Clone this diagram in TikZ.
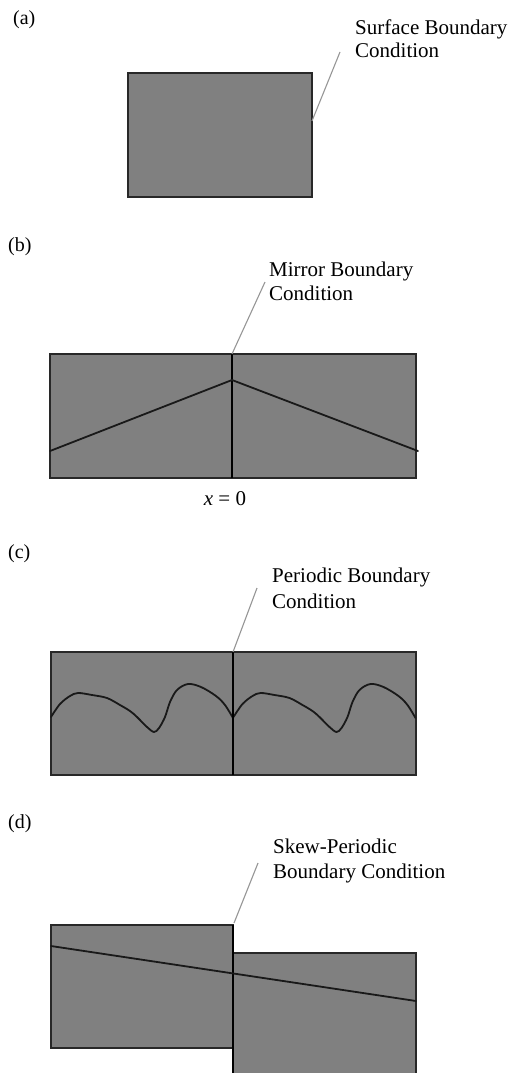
\documentclass[tikz,border=0pt]{standalone}
\usepackage{fontspec}
\setmainfont{Liberation Serif}
\definecolor{fillgray}{RGB}{128,128,128}
\definecolor{edgegray}{RGB}{40,40,40}
\definecolor{leadgray}{RGB}{150,150,150}
\begin{document}
\begin{tikzpicture}[x=1pt,y=-1pt,
  panel/.style={fill=fillgray, draw=edgegray, line width=1.8pt},
  divider/.style={draw=black, line width=1.4pt},
  curve/.style={draw=black!90, line width=1.8pt, line join=round, line cap=round},
  leader/.style={draw=leadgray, line width=1.1pt},
  lab/.style={font=\fontsize{20}{22}\selectfont, inner sep=0pt, anchor=base west},
  desc/.style={font=\fontsize{21}{23}\selectfont, inner sep=0pt, anchor=base west}]
\useasboundingbox (0,0) rectangle (511,1073);
\clip (0,0) rectangle (511,1073);

% ---------- (a) ----------
\node[lab] (la) at (13,25) {(a)};
\filldraw[panel] (128,73) rectangle (312,197);
\coordinate (a1) at (312,121);
\coordinate (a2) at (340,52);
\draw[leader] (a1) -- (a2);
\node[desc] (ta1) at (355,35) {Surface Boundary};
\node[desc] (ta2) at (355,57) {Condition};

% ---------- (b) ----------
\node[lab] (lb) at (8,251) {(b)};
\filldraw[panel] (50,354) rectangle (416,478);
\coordinate (b1) at (232,354);
\coordinate (b2) at (232,478);
\draw[divider] (b1) -- (b2);
\coordinate (bl) at (50,451);
\coordinate (bp) at (232,380);
\coordinate (br) at (418,451);
\draw[curve] (bl) -- (bp) -- (br);
\coordinate (b3) at (265,282);
\draw[leader] (b1) -- (b3);
\node[desc] (tb1) at (269,276) {Mirror Boundary};
\node[desc] (tb2) at (269,300) {Condition};
\node[desc, anchor=base] (tx) at (225,505) {\textit{x} = 0};

% ---------- (c) ----------
\node[lab] (lc) at (8,558) {(c)};
\filldraw[panel] (51,652) rectangle (416,775);
\coordinate (c1) at (233,652);
\coordinate (c2) at (233,775);
\foreach \s in {0,182.5}{
  \draw[curve, shift={(\s,0)}] plot[smooth, tension=0.55] coordinates {
    (51,717) (60,704) (70,696) (78,693) (92,695) (107,698) (120,705)
    (130,711) (137,717) (147,727) (154,732) (159,728) (165,717)
    (170,702) (177,690) (188,684) (201,687) (216,696) (225,705) (233,718)};
}
\draw[divider] (c1) -- (c2);
\coordinate (c3) at (257,588);
\draw[leader] (c1) -- (c3);
\node[desc] (tc1) at (272,582) {Periodic Boundary};
\node[desc] (tc2) at (272,608) {Condition};

% ---------- (d) ----------
\node[lab] (ld) at (8,828) {(d)};
\filldraw[panel] (233,953) rectangle (416,1090);
\filldraw[panel] (51,925) rectangle (233,1048);
\coordinate (d1) at (233,925);
\coordinate (d2) at (233,1090);
\draw[divider] (d1) -- (d2);
\coordinate (dl) at (51,946);
\coordinate (dr) at (416,1001);
\draw[curve] (dl) -- (dr);
\coordinate (d3) at (234,923);
\coordinate (d4) at (258,863);
\draw[leader] (d3) -- (d4);
\node[desc] (td1) at (273,853) {Skew-Periodic};
\node[desc] (td2) at (273,878) {Boundary Condition};
\end{tikzpicture}
\end{document}
